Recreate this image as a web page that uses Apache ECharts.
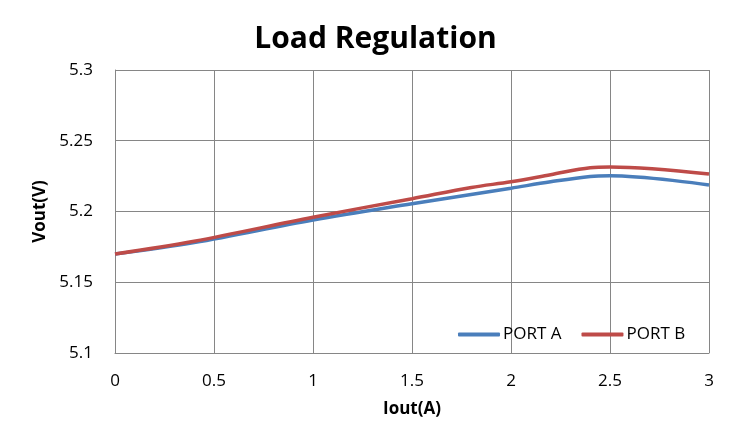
<!DOCTYPE html>
<html>
<head>
<meta charset="utf-8">
<script src="https://cdn.jsdelivr.net/npm/echarts@6/dist/echarts.min.js"></script>
<style>html,body{margin:0;padding:0;background:#fff}#c{width:751px;height:447px}</style>
</head>
<body>
<div id="c"></div>
<script>
var currentA = [0, 0.4, 1, 1.5, 2, 2.2, 2.4, 2.5, 3];
var portA = [5.170, 5.178, 5.194, 5.2055, 5.2165, 5.221, 5.2248, 5.2253, 5.2187];
var currentB = [0, 0.4, 1, 1.5, 1.8, 2, 2.2, 2.4, 2.5, 3];
var portB = [5.170, 5.179, 5.196, 5.209, 5.217, 5.221, 5.226, 5.231, 5.2315, 5.2265];
var xTicks = [0, 0.5, 1, 1.5, 2, 2.5, 3];
var yTicks = [5.1, 5.15, 5.2, 5.25, 5.3];

function pairs(xs, ys){ return xs.map(function(x,i){return [x, ys[i]];}); }
var font = "'Open Sans', 'Noto Sans', sans-serif";
var chart = echarts.init(document.getElementById('c'));
chart.setOption({
  animation: false,
  title: {
    text: 'Load Regulation', left: 'center', top: 19,
    textStyle: {fontFamily: font, fontSize: 30, fontWeight: 'bold', color: '#000'}
  },
  grid: {left: 115, right: 42, top: 70, bottom: 94, containLabel: false},
  legend: {
    left: 453, top: 321, itemWidth: 42, itemHeight: 4, itemGap: 20,
    icon: 'roundRect',
    textStyle: {fontFamily: font, fontSize: 17, color: '#000', padding: [0,0,0,-2]},
    data: ['PORT A', 'PORT B']
  },
  xAxis: {
    type: 'value', min: xTicks[0], max: xTicks[xTicks.length-1], interval: 0.5,
    name: 'Iout(A)', nameLocation: 'middle', nameGap: 48,
    nameTextStyle: {fontFamily: font, fontSize: 17, fontWeight: 'bold', color: '#000'},
    axisLine: {show: true, lineStyle: {color: '#868686', width: 1}},
    axisTick: {show: false},
    axisLabel: {fontFamily: font, fontSize: 17, color: '#000', margin: 20},
    splitLine: {show: true, lineStyle: {color: '#868686', width: 1}}
  },
  yAxis: {
    type: 'value', min: yTicks[0], max: yTicks[yTicks.length-1], interval: 0.05,
    name: 'Vout(V)', nameLocation: 'middle', nameGap: 56, nameRotate: 90,
    nameTextStyle: {fontFamily: font, fontSize: 17, fontWeight: 'bold', color: '#000'},
    axisLine: {show: true, lineStyle: {color: '#868686', width: 1}},
    axisTick: {show: false},
    axisLabel: {fontFamily: font, fontSize: 17, color: '#000', margin: 22,
      formatter: function(v){ return String(+v.toFixed(2)); }},
    splitLine: {show: true, lineStyle: {color: '#868686', width: 1}}
  },
  series: [
    {name: 'PORT A', type: 'line', data: pairs(currentA, portA), smooth: 0.35,
     showSymbol: false, symbol: 'none', lineStyle: {color: '#4A7EBB', width: 3.5}, itemStyle: {color: '#4A7EBB'}},
    {name: 'PORT B', type: 'line', data: pairs(currentB, portB), smooth: 0.35,
     showSymbol: false, symbol: 'none', lineStyle: {color: '#BE4B48', width: 3.5}, itemStyle: {color: '#BE4B48'}}
  ]
});
</script>
</body>
</html>
